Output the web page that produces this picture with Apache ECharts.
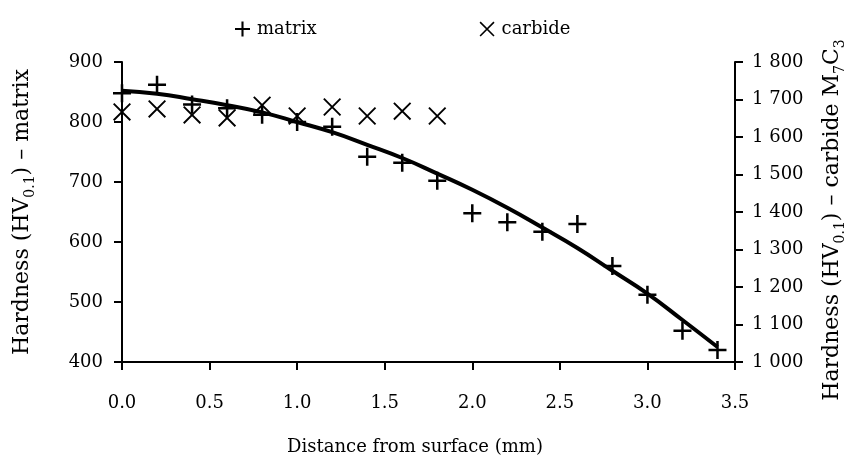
<!DOCTYPE html>
<html>
<head>
<meta charset="utf-8">
<script src="https://cdn.jsdelivr.net/npm/echarts@6/dist/echarts.min.js"></script>
<style>
  html, body { margin: 0; padding: 0; background: #fff; }
  #chart { width: 855px; height: 466px; }
</style>
</head>
<body>
<div id="chart"></div>
<script>
// Hardness profile: matrix (left axis) and M7C3 carbide (right axis) vs depth.

const matrixDist = [0.0, 0.2, 0.4, 0.6, 0.8, 1.0, 1.2, 1.4, 1.6, 1.8, 2.0, 2.2, 2.4, 2.6, 2.8, 3.0, 3.2, 3.4];
const matrixHV   = [848, 862, 829, 823, 812, 800, 792, 742, 732, 702, 648, 633, 617, 630, 560, 512, 452, 420];

const carbideDist = [0.0, 0.2, 0.4, 0.6, 0.8, 1.0, 1.2, 1.4, 1.6, 1.8];
const carbideHV   = [1667, 1675, 1659, 1651, 1685, 1656, 1680, 1656, 1669, 1656];

// fitted trend line
const trendDist = [0.0, 0.2, 0.4, 0.6, 0.8, 1.0, 1.2, 1.4, 1.6, 1.8, 2.0, 2.2, 2.4, 2.6, 2.8, 3.0, 3.2, 3.4];
const trendHV   = [852, 847, 838, 828, 816, 800, 783, 762, 740, 714, 687, 657, 624, 590, 552, 514, 470, 425];

const FONT = 'DejaVu Serif';
const PLUS = 'path://M8.6,0H11.4V8.6H20V11.4H11.4V20H8.6V11.4H0V8.6H8.6Z';
const CROSS = 'path://M0,1.5L1.5,0L20,18.5L18.5,20Z M18.5,0L20,1.5L1.5,20L0,18.5Z';

const nameRich = {
  t: { fontFamily: FONT, fontSize: 22, color: '#000', lineHeight: 30, verticalAlign: 'middle' },
  s: { fontFamily: FONT, fontSize: 14, color: '#000', lineHeight: 14, verticalAlign: 'bottom' },
};

const axisLine = { show: true, onZero: false, lineStyle: { color: '#000', width: 2 } };
const axisTick = { show: true, length: 8, lineStyle: { color: '#000', width: 2 } };
const thousands = (v) => v >= 1000 ? Math.floor(v / 1000) + ' ' + String(v % 1000).padStart(3, '0') : String(v);

const chart = echarts.init(document.getElementById('chart'));
chart.setOption({
  animation: false,
  backgroundColor: '#fff',
  grid: { left: 122, right: 114, top: 62, bottom: 104 },
  legend: {
    left: 230, top: 15,
    itemWidth: 15, itemHeight: 15, itemGap: 163,
    textStyle: { fontFamily: FONT, fontSize: 18, color: '#000', padding: [0, 0, 0, 2] },
    data: [
      { name: 'matrix', icon: PLUS },
      { name: 'carbide', icon: CROSS },
    ],
  },
  xAxis: {
    type: 'value', min: 0, max: 3.5, interval: 0.5,
    axisLine, axisTick, splitLine: { show: false },
    axisLabel: { margin: 32, fontFamily: FONT, fontSize: 18, color: '#000', formatter: (v) => v.toFixed(1) },
    name: 'Distance from surface (mm)', nameLocation: 'middle', nameGap: 76,
    nameTextStyle: { fontFamily: FONT, fontSize: 18, color: '#000', padding: [0, 27, 0, 0] },
  },
  yAxis: [
    {
      type: 'value', min: 400, max: 900, interval: 100, position: 'left',
      axisLine, axisTick, splitLine: { show: false },
      axisLabel: { margin: 19, fontFamily: FONT, fontSize: 18, color: '#000' },
      name: '{t|Hardness (HV}{s|0.1}{t|) – matrix}', nameLocation: 'middle', nameRotate: 90, nameGap: 85,
      nameTextStyle: { rich: nameRich },
    },
    {
      type: 'value', min: 1000, max: 1800, interval: 100, position: 'right',
      axisLine, axisTick, splitLine: { show: false },
      axisLabel: { margin: 17, fontFamily: FONT, fontSize: 18, color: '#000', formatter: thousands },
      name: '{t|Hardness (HV}{s|0.1}{t|) – carbide M}{s|7}{t|C}{s|3}', nameLocation: 'middle', nameRotate: 90, nameGap: 82,
      nameTextStyle: { rich: nameRich, padding: [0, 16, 0, 0] },
    },
  ],
  series: [
    {
      name: 'trend', type: 'line', yAxisIndex: 0, smooth: true, showSymbol: false,
      lineStyle: { color: '#000', width: 4 }, z: 3, silent: true,
      data: trendDist.map((d, i) => [d, trendHV[i]]),
    },
    {
      name: 'matrix', type: 'scatter', yAxisIndex: 0, symbol: PLUS, symbolSize: 18,
      itemStyle: { color: '#000', opacity: 1 }, z: 4,
      data: matrixDist.map((d, i) => [d, matrixHV[i]]),
    },
    {
      name: 'carbide', type: 'scatter', yAxisIndex: 1, symbol: CROSS, symbolSize: 18,
      itemStyle: { color: '#000', opacity: 1 }, z: 4,
      data: carbideDist.map((d, i) => [d, carbideHV[i]]),
    },
  ],
});
</script>
</body>
</html>
